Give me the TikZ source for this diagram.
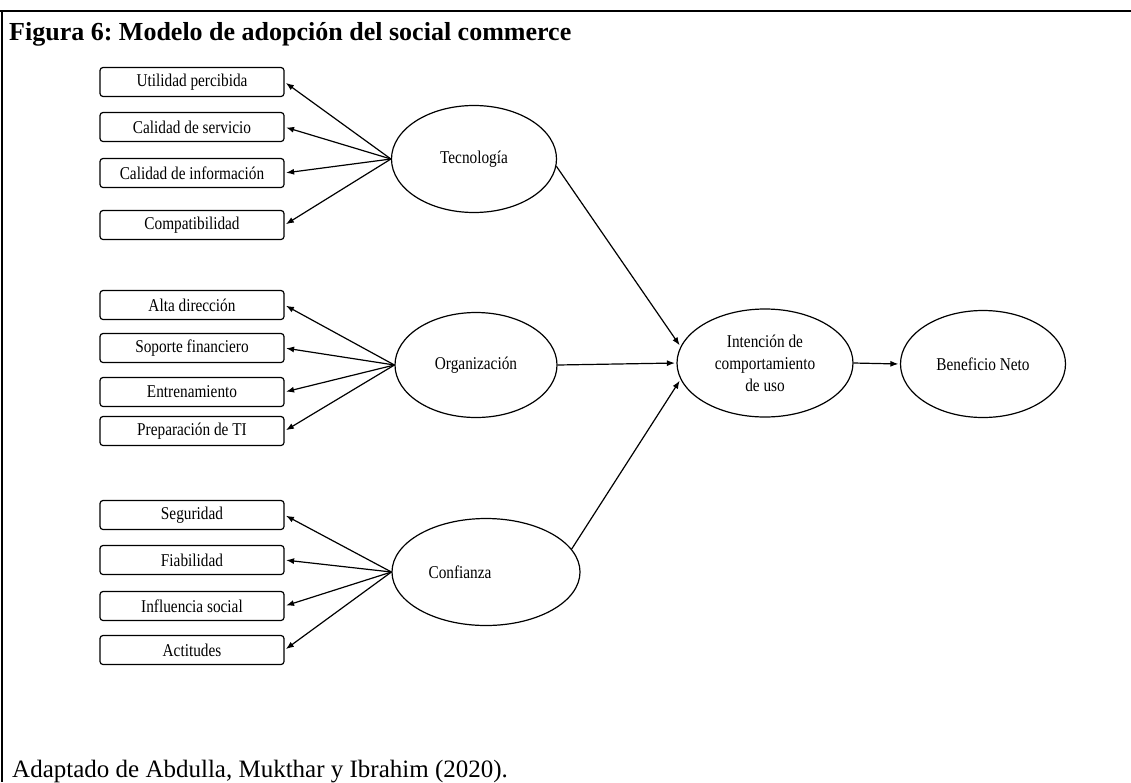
\documentclass[tikz,border=0pt]{standalone}
\usepackage{fontspec}
\setmainfont{Liberation Serif}
\newfontfamily\lblfont[FakeStretch=0.85]{Liberation Serif}
\usetikzlibrary{shapes.geometric,arrows.meta}
\frenchspacing
\begin{document}
\begin{tikzpicture}[x=1pt,y=-1pt,
  itembox/.style={draw, rounded corners=3pt, line width=1.2pt,
    minimum width=184pt, minimum height=29pt, inner sep=0pt,
    font=\lblfont\fontsize{18}{20}\selectfont},
  construct/.style={draw, ellipse, line width=1.2pt, inner sep=0pt,
    align=center, font=\lblfont\fontsize{18}{22}\selectfont},
  arr/.style={-{Latex[length=8pt,width=6pt]}, line width=1.2pt, shorten >=1.5pt},
  framerule/.style={line width=2pt}]
\useasboundingbox (0,0) rectangle (1131,782);

% frame
\draw[framerule] (0,11) -- (1131,11);
\draw[framerule] (1.5,11) -- (1.5,782);

% title and source
\node[anchor=base west, inner sep=0pt, font=\bfseries\fontsize{26}{30}\selectfont]
  (title) at (9,40) {Figura 6: Modelo de adopción del social commerce};
\node[anchor=base west, inner sep=0pt, font=\fontsize{25}{29}\selectfont]
  (src) at (12,777) {Adaptado de Abdulla, Mukthar y Ibrahim (2020).};

% indicator boxes
\node[itembox] (t1) at (192,82)  {Utilidad percibida};
\node[itembox] (t2) at (192,127) {Calidad de servicio};
\node[itembox] (t3) at (192,173) {Calidad de información};
\node[itembox] (t4) at (192,225) {Compatibilidad};

\node[itembox] (o1) at (192,305) {Alta dirección};
\node[itembox] (o2) at (192,348) {Soporte financiero};
\node[itembox] (o3) at (192,392) {Entrenamiento};
\node[itembox] (o4) at (192,431) {Preparación de TI};

\node[itembox] (c1) at (192,515) {Seguridad};
\node[itembox] (c2) at (192,560) {Fiabilidad};
\node[itembox] (c3) at (192,606) {Influencia social};
\node[itembox] (c4) at (192,650) {Actitudes};

% constructs
\node[construct, minimum width=165pt, minimum height=107pt] (tec) at (474,159) {Tecnología};
\node[construct, minimum width=162pt, minimum height=105pt] (org) at (476,365) {Organización};
\node[construct, minimum width=188pt, minimum height=107pt,
  label={[font=\lblfont\fontsize{18}{22}\selectfont, xshift=-26pt]center:Confianza}]
  (conf) at (486,572) {};
\node[construct, minimum width=176pt, minimum height=108pt] (int) at (765,363)
  {Intención de\\comportamiento\\de uso};
\node[construct, minimum width=165pt, minimum height=107pt] (ben) at (983,364) {Beneficio Neto};

% construct to indicators
\foreach \b in {t1,t2,t3,t4} \draw[arr] (tec.west) -- (\b.east);
\foreach \b in {o1,o2,o3,o4} \draw[arr] (org.west) -- (\b.east);
\foreach \b in {c1,c2,c3,c4} \draw[arr] (conf.west) -- (\b.east);

% structural paths
\draw[arr] (tec.-5) -- (int.169);
\draw[arr] (org.east) -- (int.west);
\draw[arr] (conf.15) -- (int.191);
\draw[arr] (int.east) -- (ben.west);
\end{tikzpicture}
\end{document}
